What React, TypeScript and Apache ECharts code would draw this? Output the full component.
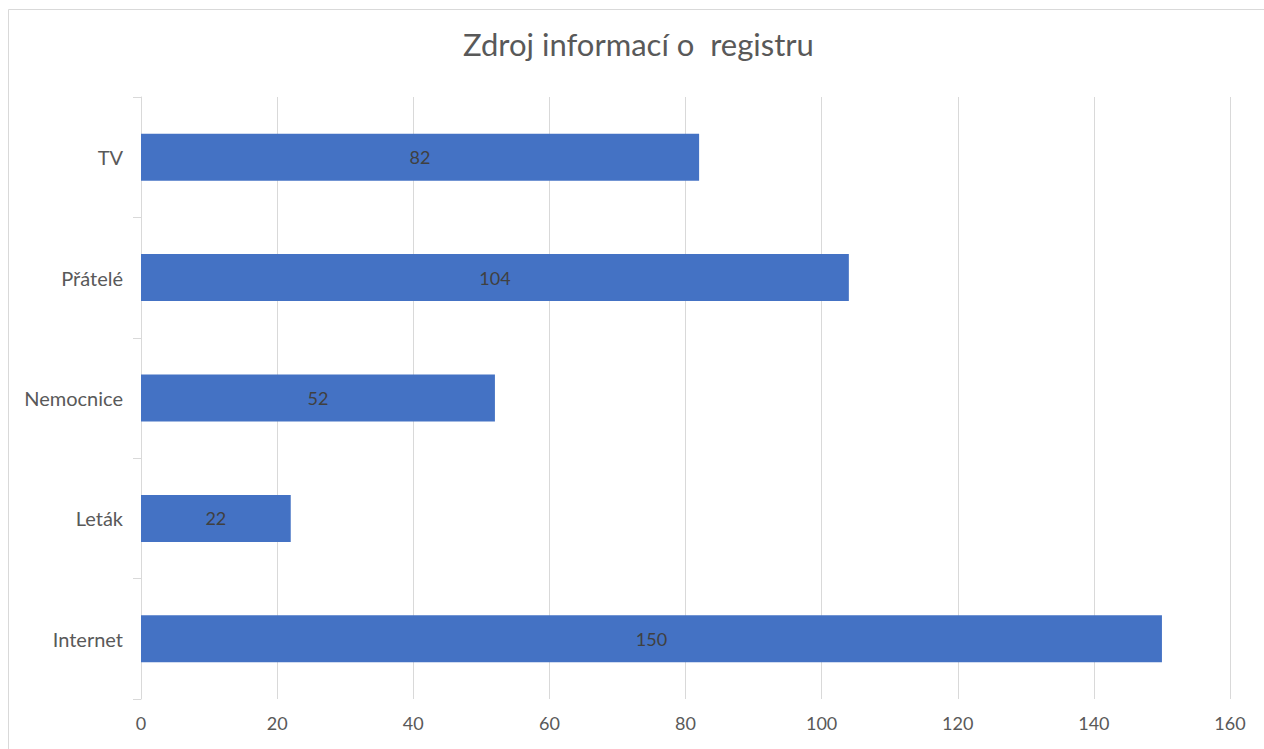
import React, { useEffect, useRef } from "react";
import * as echarts from "echarts";

const categories = ["Internet", "Leták", "Nemocnice", "Přátelé", "TV"];
const values = [150, 22, 52, 104, 82];
const titleText = "Zdroj informací o  registru";

export default function App() {
  const ref = useRef<HTMLDivElement>(null);
  useEffect(() => {
    if (!ref.current) return;
    const chart = echarts.init(ref.current, undefined, { renderer: "svg" });
    const font = "Lato, 'Open Sans', sans-serif";
    chart.setOption({
      animation: false,
      backgroundColor: "#ffffff",
      title: {
        text: titleText,
        left: 463,
        top: 28,
        padding: 0,
        textStyle: { fontFamily: font, fontSize: 31, fontWeight: "normal", color: "#595959" },
      },
      graphic: [
        {
          type: "rect",
          shape: { x: 8.5, y: 9.5, width: 1400, height: 900 },
          style: { fill: "none", stroke: "#d9d9d9", lineWidth: 1 },
          silent: true,
        },
      ],
      grid: { left: 141, right: 34, top: 97, bottom: 50, containLabel: false },
      xAxis: {
        type: "value",
        min: 0,
        max: 160,
        interval: 20,
        axisLine: { show: false },
        axisTick: { show: false },
        axisLabel: { fontFamily: font, fontSize: 18, color: "#595959", margin: 15 },
        splitLine: { lineStyle: { color: "#d9d9d9", width: 1 } },
      },
      yAxis: {
        type: "category",
        data: categories,
        axisLine: { lineStyle: { color: "#d9d9d9", width: 1 } },
        axisTick: { show: true, length: 8, lineStyle: { color: "#d9d9d9" } },
        axisLabel: { fontFamily: font, fontSize: 20, color: "#595959", margin: 18 },
      },
      series: [
        {
          type: "bar",
          data: values,
          barWidth: 47,
          itemStyle: { color: "#4472c4" },
          label: {
            show: true,
            position: "inside",
            fontFamily: font,
            fontSize: 18,
            color: "#404040",
          },
        },
      ],
    });
    return () => chart.dispose();
  }, []);
  return (
    <div
      ref={ref}
      style={{ position: "absolute", left: 0, top: 0, width: 1264, height: 749 }}
    />
  );
}
